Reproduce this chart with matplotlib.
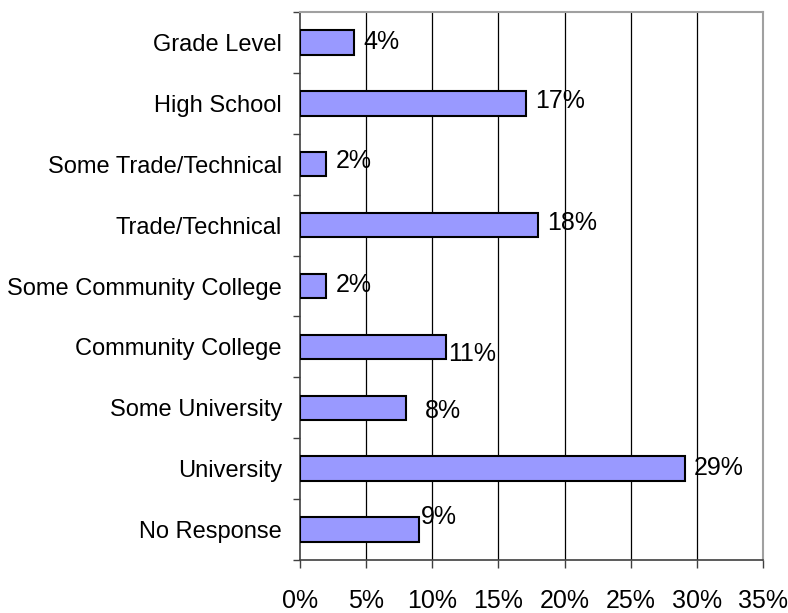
import matplotlib
matplotlib.use("Agg")
import matplotlib.pyplot as plt
from matplotlib.ticker import FixedLocator

categories = ["Grade Level", "High School", "Some Trade/Technical", "Trade/Technical",
              "Some Community College", "Community College", "Some University",
              "University", "No Response"]
values = [4.1, 17.1, 2.0, 18.0, 2.0, 11.0, 8.0, 29.1, 9.0]
value_labels = ["4%", "17%", "2%", "18%", "2%", "11%", "8%", "29%", "9%"]
x_ticks = [0, 5, 10, 15, 20, 25, 30, 35]
x_tick_labels = ["0%", "5%", "10%", "15%", "20%", "25%", "30%", "35%"]

# label placement offsets (pixels), styling only
label_dx = [9, 9, 9, 9, 9, 3, 19, 9, 2]
label_dy = [0, 2, 3, 2, 1, -7, -3, 1, 13]

plt.rcParams['font.family'] = ['Liberation Sans', 'DejaVu Sans']
FS = 17

fig = plt.figure(figsize=(7.88, 6.13), dpi=100)
ax = fig.add_axes([300/788, 1-560/613, 463/788, 548/613])

ypos = list(range(len(categories)))
ax.barh(ypos, values, height=0.4, color="#9999FF", edgecolor="black", linewidth=1.5, zorder=3)

for y, v, lab, dx, dy in zip(ypos, values, value_labels, label_dx, label_dy):
    ax.annotate(lab, xy=(v, y), xytext=(dx, dy), textcoords="offset pixels",
                ha="left", va="center", fontsize=FS + 1, zorder=4)

ax.set_xlim(0, 35)
ax.set_ylim(len(categories) - 0.5, -0.5)

ax.set_xticks(x_ticks)
ax.set_xticklabels(x_tick_labels, fontsize=FS + 1)
ax.tick_params(axis="x", direction="out", length=5.8, width=1, color="#404040", pad=15)

ax.set_yticks(ypos)
ax.set_yticklabels(categories, fontsize=FS)
ax.tick_params(axis="y", which="major", length=0, pad=13)
ax.yaxis.set_minor_locator(FixedLocator([i - 0.5 for i in range(len(categories) + 1)]))
ax.tick_params(axis="y", which="minor", direction="out", length=5, width=1, color="#404040")

for x in x_ticks[1:-1]:
    ax.axvline(x, color="black", linewidth=0.9, zorder=1)

ax.spines["left"].set_color("#404040")
ax.spines["bottom"].set_color("#404040")
ax.spines["left"].set_linewidth(1.2)
ax.spines["bottom"].set_linewidth(1.2)
ax.spines["top"].set_color("#A0A0A0")
ax.spines["right"].set_color("#A0A0A0")
ax.spines["top"].set_linewidth(1.5)
ax.spines["right"].set_linewidth(1.5)

fig.savefig("out.png", dpi=100)
